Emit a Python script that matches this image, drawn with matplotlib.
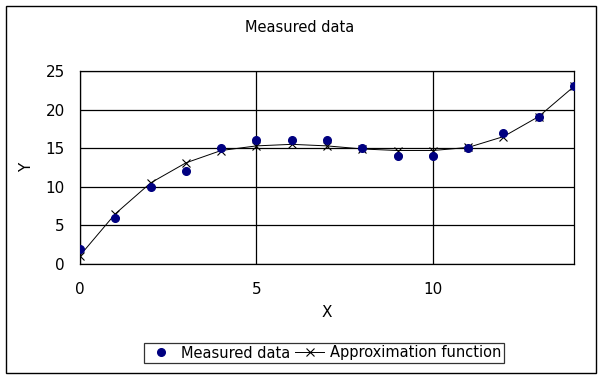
import matplotlib.pyplot as plt
from matplotlib.patches import Rectangle

x = [0, 1, 2, 3, 4, 5, 6, 7, 8, 9, 10, 11, 12, 13, 14]
measured = [2, 6, 10, 12, 15, 16, 16, 16, 15, 14, 14, 15, 17, 19, 23]
approx = [1.1, 6.5, 10.5, 13.1, 14.7, 15.3, 15.5, 15.3, 14.9, 14.7, 14.7, 15.1, 16.5, 19.1, 23.0]
xticks = [0, 5, 10]
yticks = [0, 5, 10, 15, 20, 25]

W, H = 604, 379
fig = plt.figure(figsize=(W / 100, H / 100), dpi=100)
plt.rcParams['font.family'] = 'DejaVu Sans'

# outer chart border
fig.patches.append(Rectangle((6 / W, 1 - 373 / H), 590 / W, 367 / H, transform=fig.transFigure,
                             fill=False, edgecolor='black', linewidth=1))

ax = fig.add_axes([80 / W, 1 - 264 / H, 494 / W, 193 / H])
ax.plot(x, measured, linestyle='none', marker='o', markersize=5.5, color='#000080',
        label='Measured data', zorder=3)
ax.plot(x, approx, color='black', linewidth=0.7, marker='x', markersize=6,
        markeredgewidth=0.8, label='Approximation function', zorder=2)

ax.set_xlim(0, 14)
ax.set_ylim(0, 25)
ax.set_xticks(xticks)
ax.set_yticks(yticks)
ax.tick_params(length=0, labelsize=11, pad=11)
ax.tick_params(axis='x', pad=13)
ax.grid(True, color='black', linewidth=0.9)
for s in ax.spines.values():
    s.set_linewidth(0.9)

ax.set_xlabel('X', fontsize=11, labelpad=6)
ax.set_ylabel('Y', fontsize=11, labelpad=8)
fig.text(300 / W, 1 - 28 / H, 'Measured data', ha='center', va='center', fontsize=10.5)

leg = fig.legend(loc='center', bbox_to_anchor=(324 / W, 1 - 353 / H), ncol=2, fontsize=10.5,
                 frameon=True, fancybox=False, edgecolor='black', handlelength=2,
                 handletextpad=0.4, columnspacing=0.3, borderpad=0.2)
leg.get_frame().set_linewidth(0.9)

fig.savefig('out.png', dpi=100)
